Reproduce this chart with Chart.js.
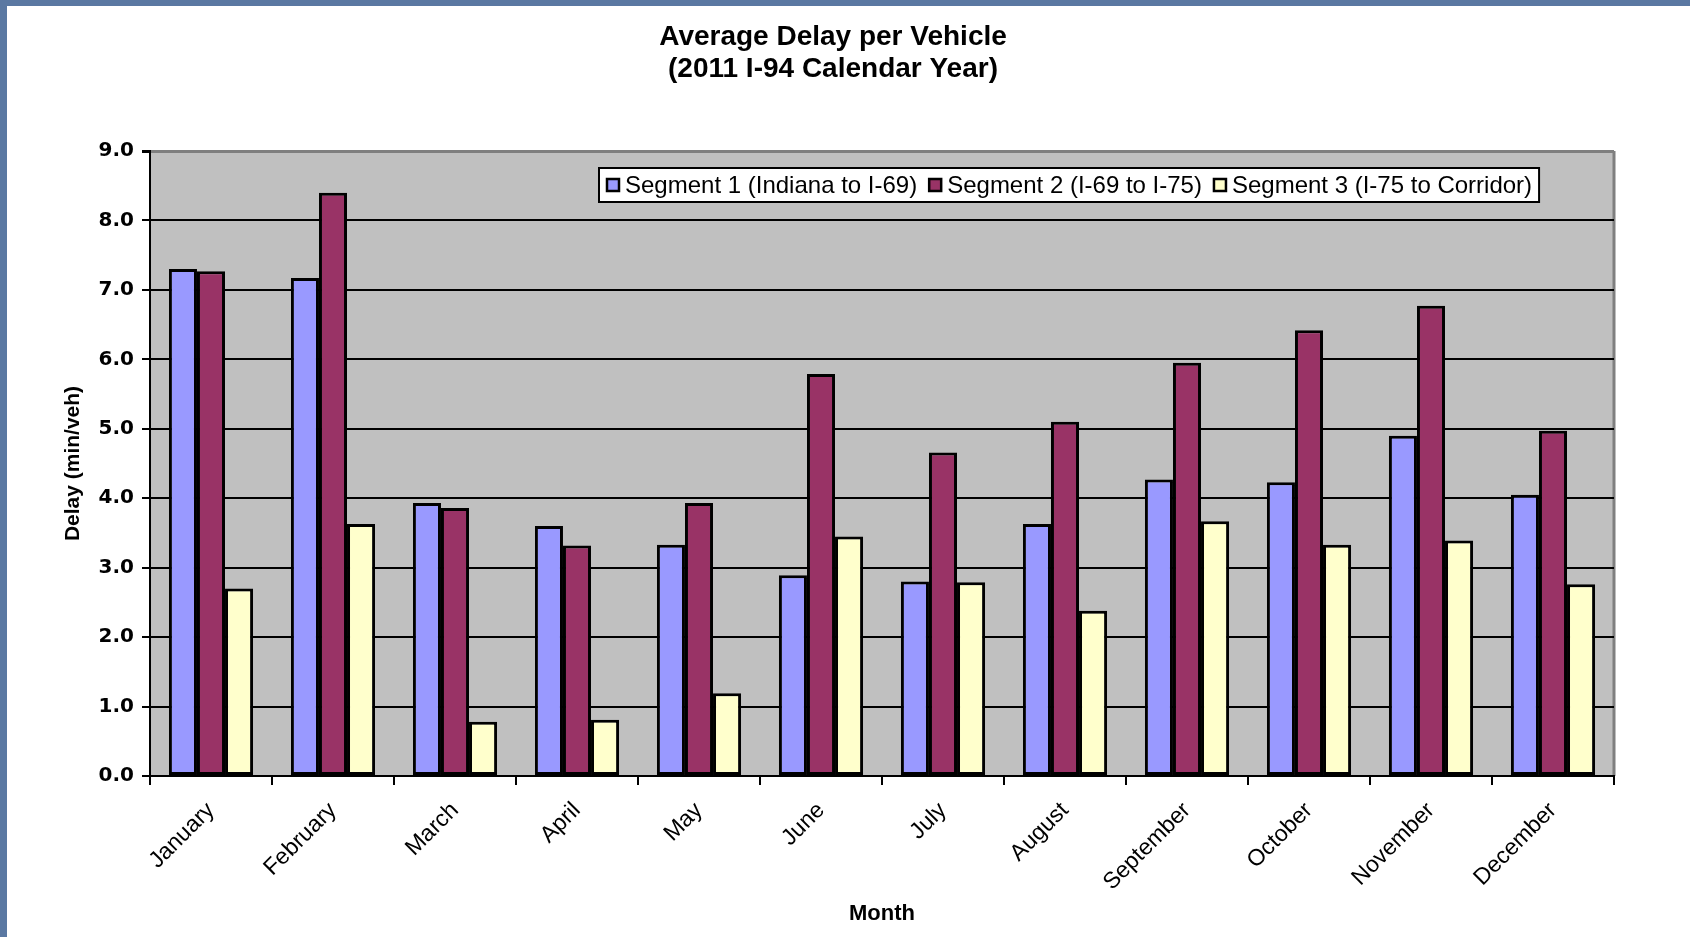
<!DOCTYPE html>
<html>
<head>
<meta charset="utf-8">
<title>Average Delay per Vehicle</title>
<script src="https://cdn.jsdelivr.net/npm/chart.js@4.4.1/dist/chart.umd.min.js"></script>
<style>
  html, body { margin: 0; padding: 0; background: #fff; overflow: hidden; }
  #wrap { position: absolute; left: 0; top: 0; width: 1690px; height: 937px; }
</style>
</head>
<body>
<div id="wrap"><canvas id="delayChart" width="1690" height="937"></canvas></div>
<script>
// chart data
const months = ['January', 'February', 'March', 'April', 'May', 'June',
  'July', 'August', 'September', 'October', 'November', 'December'];
const seriesNames = ['Segment 1 (Indiana to I-69)', 'Segment 2 (I-69 to I-75)', 'Segment 3 (I-75 to Corridor)'];
const segment1 = [7.30, 7.17, 3.93, 3.60, 3.33, 2.89, 2.80, 3.63, 4.27, 4.23, 4.90, 4.05];
const segment2 = [7.27, 8.40, 3.86, 3.32, 3.93, 5.79, 4.66, 5.10, 5.95, 6.42, 6.77, 4.97];
const segment3 = [2.70, 3.63, 0.78, 0.81, 1.19, 3.45, 2.79, 2.38, 3.67, 3.33, 3.39, 2.76];
const yTickValues = [0, 1, 2, 3, 4, 5, 6, 7, 8, 9];
const titleLines = ['Average Delay per Vehicle', '(2011 I-94 Calendar Year)'];

const colors = ['#9999FF', '#993366', '#FFFFCC'];

// page frame, plot background, title and legend
const decor = {
  id: 'decor',
  beforeDraw(chart) {
    const ctx = chart.ctx;
    const a = chart.chartArea;
    ctx.save();
    ctx.fillStyle = '#ffffff';
    ctx.fillRect(0, 0, chart.width, chart.height);
    ctx.fillStyle = '#5a78a2';
    ctx.fillRect(0, 0, chart.width, 6);
    ctx.fillRect(0, 0, 7, chart.height);
    ctx.fillStyle = '#c0c0c0';
    ctx.fillRect(a.left, a.top, a.right - a.left, a.bottom - a.top);
    // right border of the plot
    ctx.strokeStyle = '#7f7f7f';
    ctx.lineWidth = 3;
    ctx.beginPath();
    ctx.moveTo(a.right, a.top);
    ctx.lineTo(a.right, a.bottom);
    ctx.stroke();
    ctx.restore();
  },
  afterDraw(chart) {
    const ctx = chart.ctx;
    ctx.save();
    ctx.fillStyle = '#000';
    ctx.textAlign = 'center';
    ctx.textBaseline = 'middle';
    ctx.font = 'bold 28px "Liberation Sans", Arial, sans-serif';
    ctx.fillText(titleLines[0], 833, 37);
    ctx.fillText(titleLines[1], 833, 69);

    // legend box
    ctx.font = '24px "Liberation Sans", Arial, sans-serif';
    const left = 599, top = 168, h = 34;
    let x = left + 8;
    const items = chart.data.datasets.map(ds => {
      const w = ctx.measureText(ds.label).width;
      const it = { x, w, color: ds.backgroundColor, label: ds.label };
      x += 18 + w + 12;
      return it;
    });
    const boxW = x - 12 + 7 - left;
    ctx.fillStyle = '#fff';
    ctx.fillRect(left, top, boxW, h);
    ctx.strokeStyle = '#000';
    ctx.lineWidth = 2;
    ctx.strokeRect(left, top, boxW, h);
    const midY = top + h / 2;
    ctx.textAlign = 'left';
    items.forEach(it => {
      ctx.fillStyle = it.color;
      ctx.fillRect(it.x, midY - 6, 12, 12);
      ctx.strokeStyle = '#000';
      ctx.lineWidth = 2.5;
      ctx.strokeRect(it.x, midY - 6, 12, 12);
      ctx.fillStyle = '#000';
      ctx.fillText(it.label, it.x + 18, midY + 1);
    });
    ctx.restore();
  }
};

const ctx = document.getElementById('delayChart').getContext('2d');
new Chart(ctx, {
  type: 'bar',
  data: {
    labels: months,
    datasets: [segment1, segment2, segment3].map((vals, i) => ({
      label: seriesNames[i],
      data: vals,
      backgroundColor: colors[i],
      borderColor: '#000',
      borderWidth: 3,
      borderSkipped: false,
      categoryPercentage: 0.69,
      barPercentage: 1.0
    }))
  },
  options: {
    responsive: false,
    animation: false,
    layout: { padding: { left: 0, right: 76, top: 151, bottom: 0 } },
    plugins: {
      legend: { display: false },
      title: { display: false },
      tooltip: { enabled: false }
    },
    scales: {
      x: {
        grid: { display: true, drawOnChartArea: false, drawTicks: true, offset: true, tickLength: 9, color: '#000', lineWidth: 2 },
        border: { display: true, color: '#000', width: 2 },
        ticks: {
          color: '#000',
          minRotation: 45,
          maxRotation: 45,
          padding: 12,
          autoSkip: false,
          font: { family: '"Liberation Sans", Arial, sans-serif', size: 23 }
        },
        title: {
          display: true,
          text: 'Month',
          color: '#000',
          padding: { top: 0, bottom: 10 },
          font: { family: '"Liberation Sans", Arial, sans-serif', size: 22, weight: 'bold' }
        },
        afterFit(scale) { scale.height = 161; }
      },
      y: {
        min: 0,
        max: 9,
        afterBuildTicks(scale) { scale.ticks = yTickValues.map(v => ({ value: v })); },
        grid: {
          color: c => (c.tick && c.tick.value === 9 ? '#7f7f7f' : '#000'),
          lineWidth: c => (c.tick && c.tick.value === 9 ? 3 : 2),
          tickColor: '#000',
          tickLength: 8
        },
        border: { display: true, color: '#000', width: 2 },
        ticks: {
          color: '#000',
          padding: 8,
          callback: v => Number(v).toFixed(1),
          font: { family: '"DejaVu Sans", Verdana, sans-serif', size: 20, weight: 'bold' }
        },
        title: {
          display: true,
          text: 'Delay (min/veh)',
          color: '#000',
          padding: { top: 61, bottom: 0 },
          font: { family: '"Liberation Sans", Arial, sans-serif', size: 21, weight: 'bold' }
        },
        afterFit(scale) { scale.width = 150; }
      }
    }
  },
  plugins: [decor]
});
</script>
</body>
</html>
